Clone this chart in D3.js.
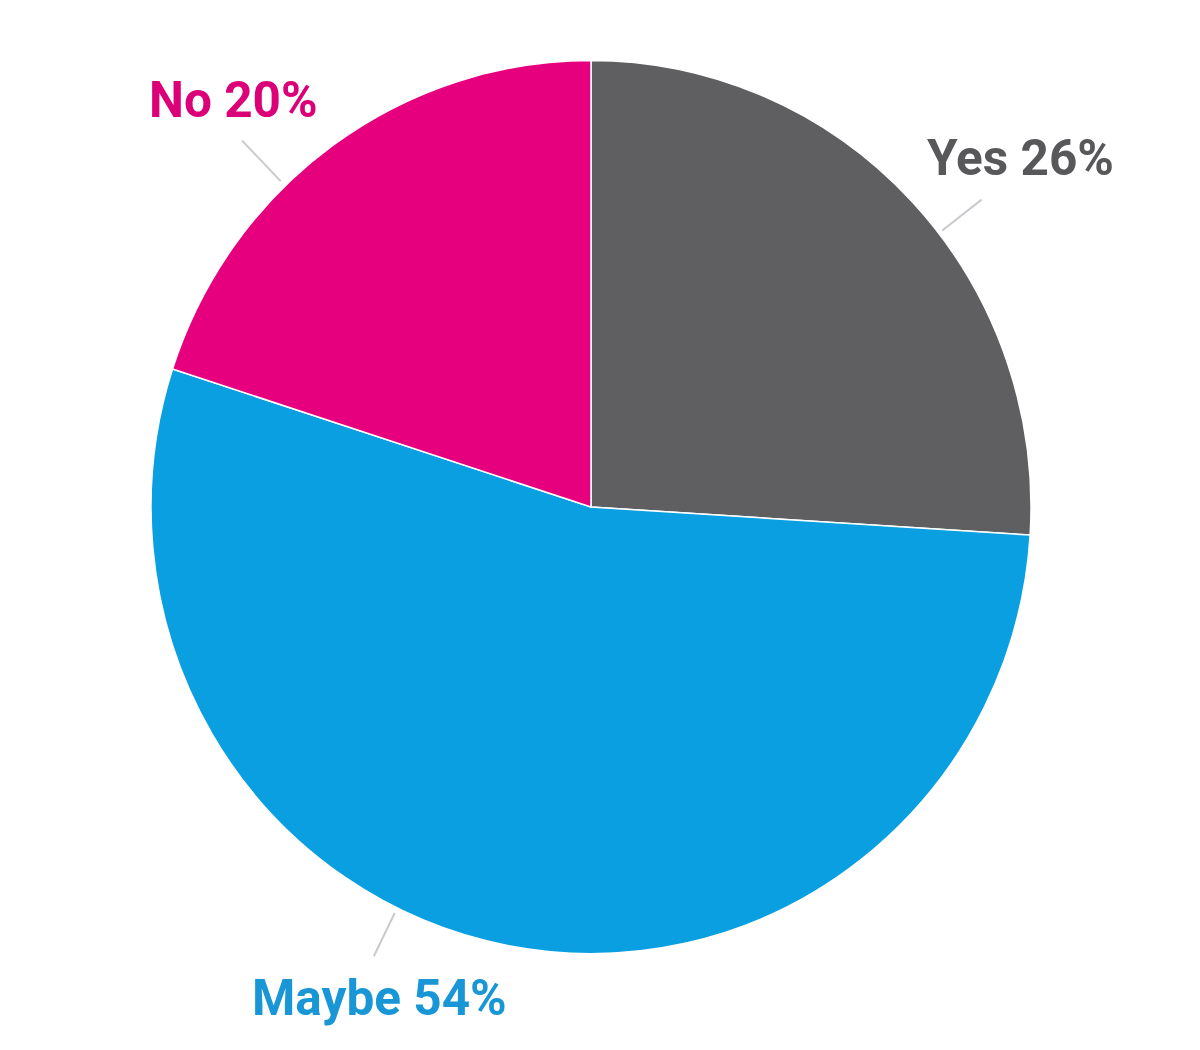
<!DOCTYPE html>
<html>
<head>
<meta charset="utf-8">
<script src="https://cdn.jsdelivr.net/npm/d3@7"></script>
<style>
  html, body { margin: 0; padding: 0; background: #fff; }
  svg { display: block; }
</style>
</head>
<body>
<div id="chart"></div>
<script>
// Data
const categories = ['Yes', 'Maybe', 'No'];
const values = [26, 54, 20];
const colors = ['#5f5f62', '#0a9fe1', '#e6007e'];
const textColors = ['#58585b', '#1996d6', '#db0077'];

const width = 1200;
const height = 1050;
const cx = 591;
const cy = 507;
const radius = 440;

const svg = d3.select('#chart')
  .append('svg')
  .attr('width', width)
  .attr('height', height);

const data = categories.map((c, i) => ({ name: c, value: values[i], color: colors[i], text: textColors[i] }));

const pie = d3.pie()
  .sort(null)
  .value(d => d.value);

const arc = d3.arc()
  .innerRadius(0)
  .outerRadius(radius);

const arcs = pie(data);

// Slightly taller than wide, as in the reference
const g = svg.append('g')
  .attr('transform', `translate(${cx},${cy}) scale(1,1.015)`);

g.selectAll('path.slice')
  .data(arcs)
  .enter()
  .append('path')
  .attr('class', 'slice')
  .attr('d', arc)
  .attr('fill', d => d.data.color)
  .attr('stroke', '#fff')
  .attr('stroke-width', 1.5);

// Label layout (angle of leader line in degrees, clockwise from top; text anchor point)
const labelLayout = {
  Yes:   { angle: 51.8,  r0: 447, r1: 497, tx: 927, ty: 175, anchor: 'start' },
  Maybe: { angle: 205.8, r0: 451, r1: 499, tx: 252, ty: 1015, anchor: 'start' },
  No:    { angle: 316.4, r0: 450, r1: 506, tx: 149, ty: 117, anchor: 'start' }
};

const pt = (deg, r) => {
  const a = deg * Math.PI / 180;
  return [cx + r * Math.sin(a), cy - r * Math.cos(a)];
};

arcs.forEach(d => {
  const L = labelLayout[d.data.name];
  const p0 = pt(L.angle, L.r0);
  const p1 = pt(L.angle, L.r1);
  svg.append('line')
    .attr('x1', p0[0]).attr('y1', p0[1])
    .attr('x2', p1[0]).attr('y2', p1[1])
    .attr('stroke', '#cacace')
    .attr('stroke-width', 2);

  svg.append('text')
    .attr('x', L.tx)
    .attr('y', L.ty)
    .attr('text-anchor', L.anchor)
    .attr('fill', d.data.text)
    .attr('font-family', 'Roboto, "Open Sans", sans-serif')
    .attr('font-weight', 700)
    .attr('font-size', '49.5px')
    .text(`${d.data.name} ${d.data.value}%`);
});
</script>
</body>
</html>
